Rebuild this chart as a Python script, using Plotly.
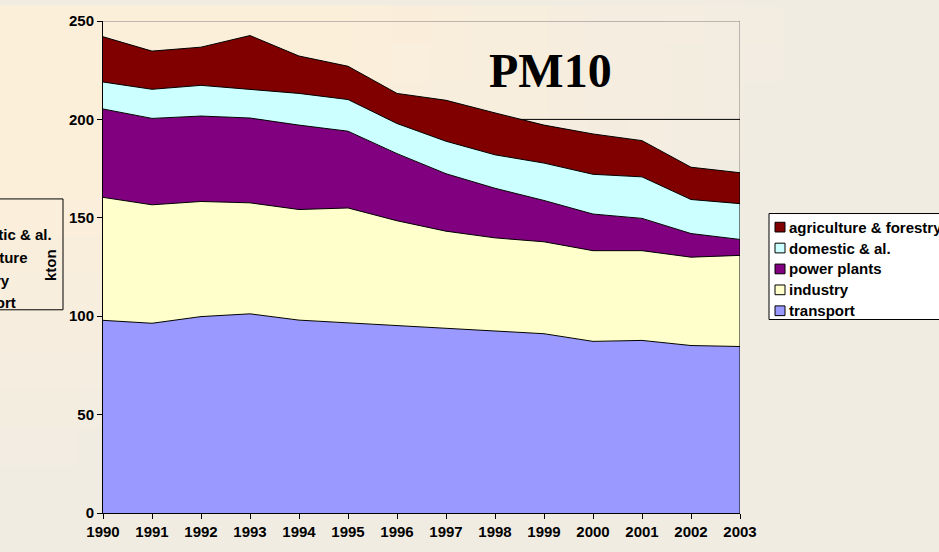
import math
import plotly.graph_objects as go

# PM10 emissions by sector, kton
years = list(range(1990, 2004))
transport = [97.9, 96.4, 99.8, 101.2, 98.0, 96.6, 95.1, 93.8, 92.5, 91.1, 87.2, 87.7, 85.1, 84.6]
industry = [62.5, 60.2, 58.5, 56.4, 56.2, 58.4, 53.4, 49.4, 47.3, 46.7, 46.1, 45.6, 44.9, 46.3]
power_plants = [44.9, 43.9, 43.4, 43.1, 42.9, 39.0, 34.1, 29.2, 25.2, 21.0, 18.6, 16.4, 12.0, 8.1]
domestic = [13.7, 14.8, 15.6, 14.4, 16.1, 16.1, 15.3, 16.5, 17.0, 19.0, 20.2, 21.1, 17.3, 18.2]
agriculture = [23.0, 19.4, 19.4, 27.5, 19.0, 16.9, 15.3, 20.8, 21.3, 19.3, 20.5, 18.4, 16.4, 15.7]

names = ["transport", "industry", "power plants", "domestic & al.", "agriculture & forestry"]
series = [transport, industry, power_plants, domestic, agriculture]
colors = ["#9999FF", "#FFFFCC", "#800080", "#CCFFFF", "#800000"]

# names shown in the clipped legend on the left edge
ghost_names = ["domestic & al.", "agriculture", "industry", "transport"]

W, H = 939, 552
ML, MR, MT, MB = 103, 199, 16, 30
PW, PH = W - ML - MR, H - MT - MB

BOLD = dict(family="Liberation Sans, Arial, sans-serif", size=15, color="black", weight="bold")


def px(x):
    return (x - ML) / PW


def py(y):
    return (H - MB - y) / PH


def bg_color(x, y):
    # peach at top-left fading to grey-beige
    r = math.sqrt((x / W) ** 2 + (y / H) ** 2)
    t = min(1, max(0, (r - 0.35) / 0.5))
    c0, c1 = (252, 239, 218), (241, 236, 226)
    c = [round(a + (b - a) * t) for a, b in zip(c0, c1)]
    return "rgb(%d,%d,%d)" % tuple(c)


fig = go.Figure()

for name, vals, col in zip(names, series, colors):
    fig.add_trace(go.Scatter(
        x=years, y=vals, name=name, stackgroup="one", mode="lines",
        line=dict(color="black", width=1), fillcolor=col, showlegend=False,
        hoverinfo="skip",
    ))

shapes = []
cols, rows = 24, 14
cw, ch = W / cols, H / rows
for i in range(cols):
    for j in range(rows):
        x0, y0 = i * cw, j * ch
        shapes.append(dict(
            type="rect", xref="paper", yref="paper", layer="below",
            x0=px(x0), x1=px(x0 + cw + 1), y0=py(y0), y1=py(y0 + ch + 1),
            fillcolor=bg_color(x0 + cw / 2, y0 + ch / 2), line=dict(width=0),
        ))

# plot frame and the 200 gridline
shapes.append(dict(type="line", xref="x", yref="y", x0=years[0], x1=years[-1], y0=250, y1=250,
                   line=dict(color="#808080", width=1), layer="below"))
shapes.append(dict(type="line", xref="x", yref="y", x0=years[-1], x1=years[-1], y0=0, y1=250,
                   line=dict(color="#808080", width=1), layer="below"))
shapes.append(dict(type="line", xref="x", yref="y", x0=years[0], x1=years[-1], y0=200, y1=200,
                   line=dict(color="black", width=1), layer="below"))
total_last = sum(s[-1] for s in series)
shapes.append(dict(type="line", xref="x", yref="y", x0=years[-1], x1=years[-1], y0=0, y1=total_last,
                   line=dict(color="black", width=1)))

annotations = []

# right legend
shapes.append(dict(type="rect", xref="paper", yref="paper", x0=px(769), x1=px(950),
                   y0=py(214), y1=py(323), fillcolor="white", line=dict(color="black", width=1)))
for k, (name, col) in enumerate(zip(names[::-1], colors[::-1])):
    yc = 228 + k * 21.5
    shapes.append(dict(type="rect", xref="paper", yref="paper", x0=px(775), x1=px(785),
                       y0=py(yc - 5), y1=py(yc + 5), fillcolor=col, line=dict(color="black", width=1)))
    annotations.append(dict(xref="paper", yref="paper", x=px(787), y=py(yc), text=name,
                            showarrow=False, xanchor="left", yanchor="middle", font=BOLD))

# clipped legend at the left edge
shapes.append(dict(type="rect", xref="paper", yref="paper", x0=px(-80), x1=px(63),
                   y0=py(199), y1=py(313), fillcolor="rgba(0,0,0,0)", line=dict(color="black", width=1)))
for k, name in enumerate(ghost_names):
    annotations.append(dict(xref="paper", yref="paper", x=px(-52), y=py(236 + k * 23.3), text=name,
                            showarrow=False, xanchor="left", yanchor="middle", font=BOLD))

annotations.append(dict(xref="paper", yref="paper", x=px(50), y=py(267), text="kton", textangle=-90,
                        showarrow=False, xanchor="center", yanchor="middle", font=BOLD))
annotations.append(dict(xref="paper", yref="paper", x=px(550), y=py(67), text="PM10",
                        showarrow=False, xanchor="center", yanchor="middle",
                        font=dict(family="Liberation Serif, Times New Roman, serif", size=48,
                                  color="black", weight="bold")))

fig.update_layout(
    width=W, height=H,
    margin=dict(l=ML, r=MR, t=MT, b=MB),
    paper_bgcolor="#F1ECE2",
    plot_bgcolor="rgba(0,0,0,0)",
    shapes=shapes,
    annotations=annotations,
    hovermode=False,
    xaxis=dict(range=[years[0], years[-1]], tickvals=years, ticks="outside", ticklen=5,
               tickcolor="black", showline=True, linecolor="black", linewidth=1,
               showgrid=False, zeroline=False, tickfont=BOLD),
    yaxis=dict(range=[0, 250], tickvals=[0, 50, 100, 150, 200, 250], ticks="outside", ticklen=5,
               tickcolor="black", showline=True, linecolor="black", linewidth=1,
               showgrid=False, zeroline=False, tickfont=BOLD),
)

# drop the page's default body margin so the figure starts at the window corner
fig.write_html("out.html", config={"displayModeBar": False},
               post_script="document.body.style.margin='0';")
